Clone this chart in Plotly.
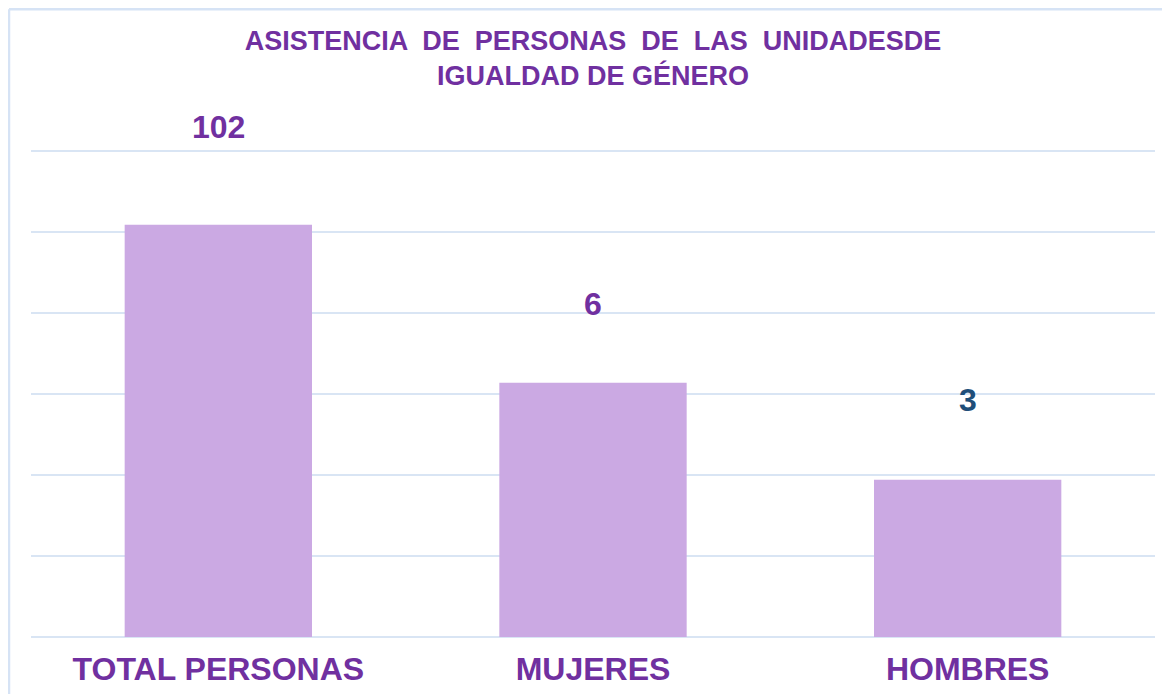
import plotly.graph_objects as go

# Data
categories = ["TOTAL PERSONAS", "MUJERES", "HOMBRES"]
bar_heights = [5.09, 3.14, 1.94]          # bar heights as drawn (grid units)
value_labels = ["102", "6", "3"]           # data labels shown above bars
label_colors = ["#7030A0", "#7030A0", "#1F4E79"]
label_offsets = [98, 79, 80]               # px above bar top

PURPLE = "#7030A0"
BAR = "#CBA9E3"
GRID = "#D9E5F4"
FONT = "Liberation Sans, Arial, sans-serif"

W, H = 1170, 694
ML, MR, MT, MB = 23, 23, 102, 65
PW, PH = W - ML - MR, H - MT - MB

def px_x(px):
    return (px - ML) / PW

def px_y(py):
    return (H - MB - py) / PH

fig = go.Figure()
fig.add_trace(go.Bar(
    x=categories, y=bar_heights,
    marker=dict(color=BAR, line=dict(width=0)),
    hoverinfo="skip",
))

for cat, h, txt, col, off in zip(categories, bar_heights, value_labels, label_colors, label_offsets):
    fig.add_annotation(
        x=cat, y=h, xref="x", yref="y", text=f"<b>{txt}</b>",
        showarrow=False, yanchor="middle", yshift=off,
        font=dict(family=FONT, size=32, color=col),
    )

# chart border (top and left visible)
fig.add_shape(type="line", xref="paper", yref="paper",
              x0=px_x(1), x1=px_x(W + 5), y0=px_y(1.2), y1=px_y(1.2),
              line=dict(color="#D6E3F5", width=2.5))
fig.add_shape(type="line", xref="paper", yref="paper",
              x0=px_x(1), x1=px_x(1), y0=px_y(1.2), y1=px_y(H + 5),
              line=dict(color="#D6E3F5", width=2.5))

fig.update_layout(
    width=W, height=H,
    margin=dict(l=ML, r=MR, t=MT, b=MB, autoexpand=False),
    paper_bgcolor="white", plot_bgcolor="white",
    bargap=0.5,
    showlegend=False,
    title=dict(
        text="<b>ASISTENCIA  DE  PERSONAS  DE  LAS  UNIDADESDE<br>IGUALDAD DE GÉNERO</b>",
        x=(ML + PW / 2) / W, xanchor="center",
        y=1 - 41.5 / H, yanchor="middle", yref="container",
        font=dict(family=FONT, size=27, color=PURPLE),
    ),
    xaxis=dict(
        showgrid=False, showline=False, ticks="",
        tickfont=dict(family=FONT, size=32, color=PURPLE),
        tickprefix="<b>", ticksuffix="</b>",
        ticklabelstandoff=10,
    ),
    yaxis=dict(
        range=[0, PH / 81.0], tickmode="array", tickvals=[0, 1, 2, 3, 4, 5, 6],
        showticklabels=False,
        showgrid=True, gridcolor=GRID, gridwidth=2,
        zeroline=True, zerolinecolor=GRID, zerolinewidth=2,
        showline=False, ticks="",
    ),
)

fig.write_html("out.html")
